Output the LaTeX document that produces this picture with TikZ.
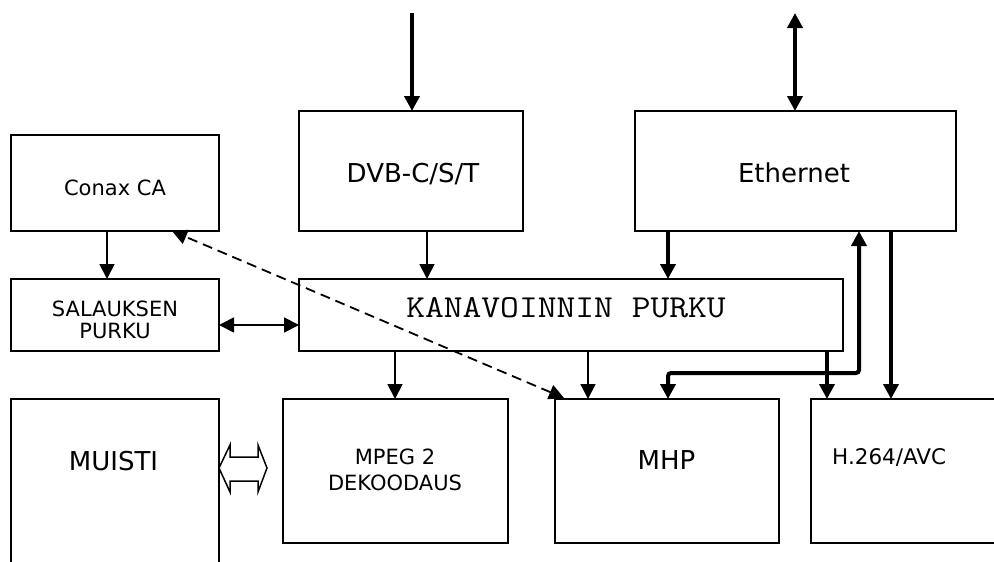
\documentclass[tikz,border=0pt]{standalone}
\usepackage{fontspec}
\setmainfont{DejaVu Sans}
\newfontfamily\monofnt{Latin Modern Mono}[FakeStretch=1.14]
\usetikzlibrary{arrows.meta,calc}
\begin{document}
\begin{tikzpicture}[x=1pt,y=-1pt,
  box/.style={draw, line width=1.6pt, inner sep=0pt, outer sep=0pt},
  thinline/.style={line width=1.8pt},
  fatline/.style={line width=4pt},
  tip/.style={-{Triangle[length=15pt,width=15pt]}},
  tips/.style={{Triangle[length=15pt,width=15pt]}-{Triangle[length=15pt,width=15pt]}},
  lbl/.style={inner sep=0pt, anchor=base},
  bigtxt/.style={font=\fontsize{26}{31}\selectfont},
  smalltxt/.style={font=\fontsize{21}{21.5}\selectfont}]
\path[use as bounding box, fill=white] (0,0) rectangle (994,562);
\clip (0,0) rectangle (994,562);

% boxes
\node[box, minimum width=208pt, minimum height=96pt] (conax) at (115,183) {};
\node[box, minimum width=208pt, minimum height=72pt] (salaus) at (115,315) {};
\node[box, minimum width=224pt, minimum height=120pt] (dvb) at (411,171) {};
\node[box, minimum width=321pt, minimum height=120pt] (eth) at (795.5,171) {};
\node[box, minimum width=544pt, minimum height=72pt] (kan) at (571,315) {};
\node[box, minimum width=208pt, minimum height=201pt] (muisti) at (115,499.5) {};
\node[box, minimum width=225pt, minimum height=144pt] (mpeg) at (395.5,471) {};
\node[box, minimum width=224pt, minimum height=144pt] (mhp) at (667,471) {};
\node[box, minimum width=289pt, minimum height=144pt] (h264) at (955.5,471) {};

% texts
\node[lbl, smalltxt] (tconax) at (115,195) {Conax CA};
\node[lbl, smalltxt, align=center] (tsal) at (115,338) {SALAUKSEN\\PURKU};
\node[lbl, bigtxt] (tdvb) at (413,182) {DVB-C/S/T};
\node[lbl, bigtxt] (teth) at (794,182) {Ethernet};
\node[lbl, font=\monofnt\fontsize{32}{32}\selectfont] (tkan) at (566,317) {KANAVOINNIN PURKU};
\node[lbl, bigtxt] (tmuisti) at (113.5,470) {MUISTI};
\node[lbl, font=\fontsize{21}{26}\selectfont, align=center] (tmpeg) at (395,490) {MPEG 2\\DEKOODAUS};
\node[lbl, bigtxt] (tmhp) at (666.5,469) {MHP};
\node[inner sep=0pt, anchor=base west, font=\fontsize{21.5}{22}\selectfont] (th264) at (832,464) {H.264/AVC};

% x / junction coordinates
\coordinate (inDVB) at (412,13);
\coordinate (ethTop) at (795,13);
\coordinate (x107) at (107,0);
\coordinate (x172) at (172,0);
\coordinate (x427) at (427,0);
\coordinate (x668) at (668,0);
\coordinate (x395) at (395,0);
\coordinate (x588) at (588,0);
\coordinate (x827) at (827,0);
\coordinate (x891) at (891,0);
\coordinate (jn1) at (668,373);
\coordinate (jn2) at (859,373);
\coordinate (y325) at (0,325);

% connectors
\draw[fatline, tip] (inDVB) -- (inDVB |- dvb.north);
\draw[fatline, tips] (ethTop) -- (ethTop |- eth.north);
\draw[thinline, tip] (conax.south -| x107) -- (salaus.north -| x107);
\draw[thinline, tips] (salaus.east |- y325) -- (kan.west |- y325);
\draw[thinline, tip] (dvb.south -| x427) -- (kan.north -| x427);
\draw[fatline, tip] (eth.south -| x668) -- (kan.north -| x668);
\draw[line width=1.8pt, dash pattern=on 10pt off 6pt, tips]
  ($(mhp.north west)+(9,-1)$) -- (conax.south -| x172);
\draw[thinline, tip] (kan.south -| x395) -- (mpeg.north -| x395);
\draw[thinline, tip] (kan.south -| x588) -- (mhp.north -| x588);
\draw[fatline, tips, rounded corners=3pt] (mhp.north -| jn1) -- (jn1) -- (jn2) -- (eth.south -| jn2);
\draw[fatline, tip] (kan.south -| x827) -- (h264.north -| x827);
\draw[fatline, tip] (eth.south -| x891) -- (h264.north -| x891);

% hollow double arrow MUISTI <-> MPEG
\draw[line width=1.5pt, line join=miter]
  ($(muisti.north east)+(0,69)$) -- ++(11,-23) -- ++(0,12) -- ++(28,0) -- ++(0,-12)
  -- ++(9,23) -- ++(-9,24) -- ++(0,-11) -- ++(-28,0) -- ++(0,11) -- cycle;
\end{tikzpicture}
\end{document}
